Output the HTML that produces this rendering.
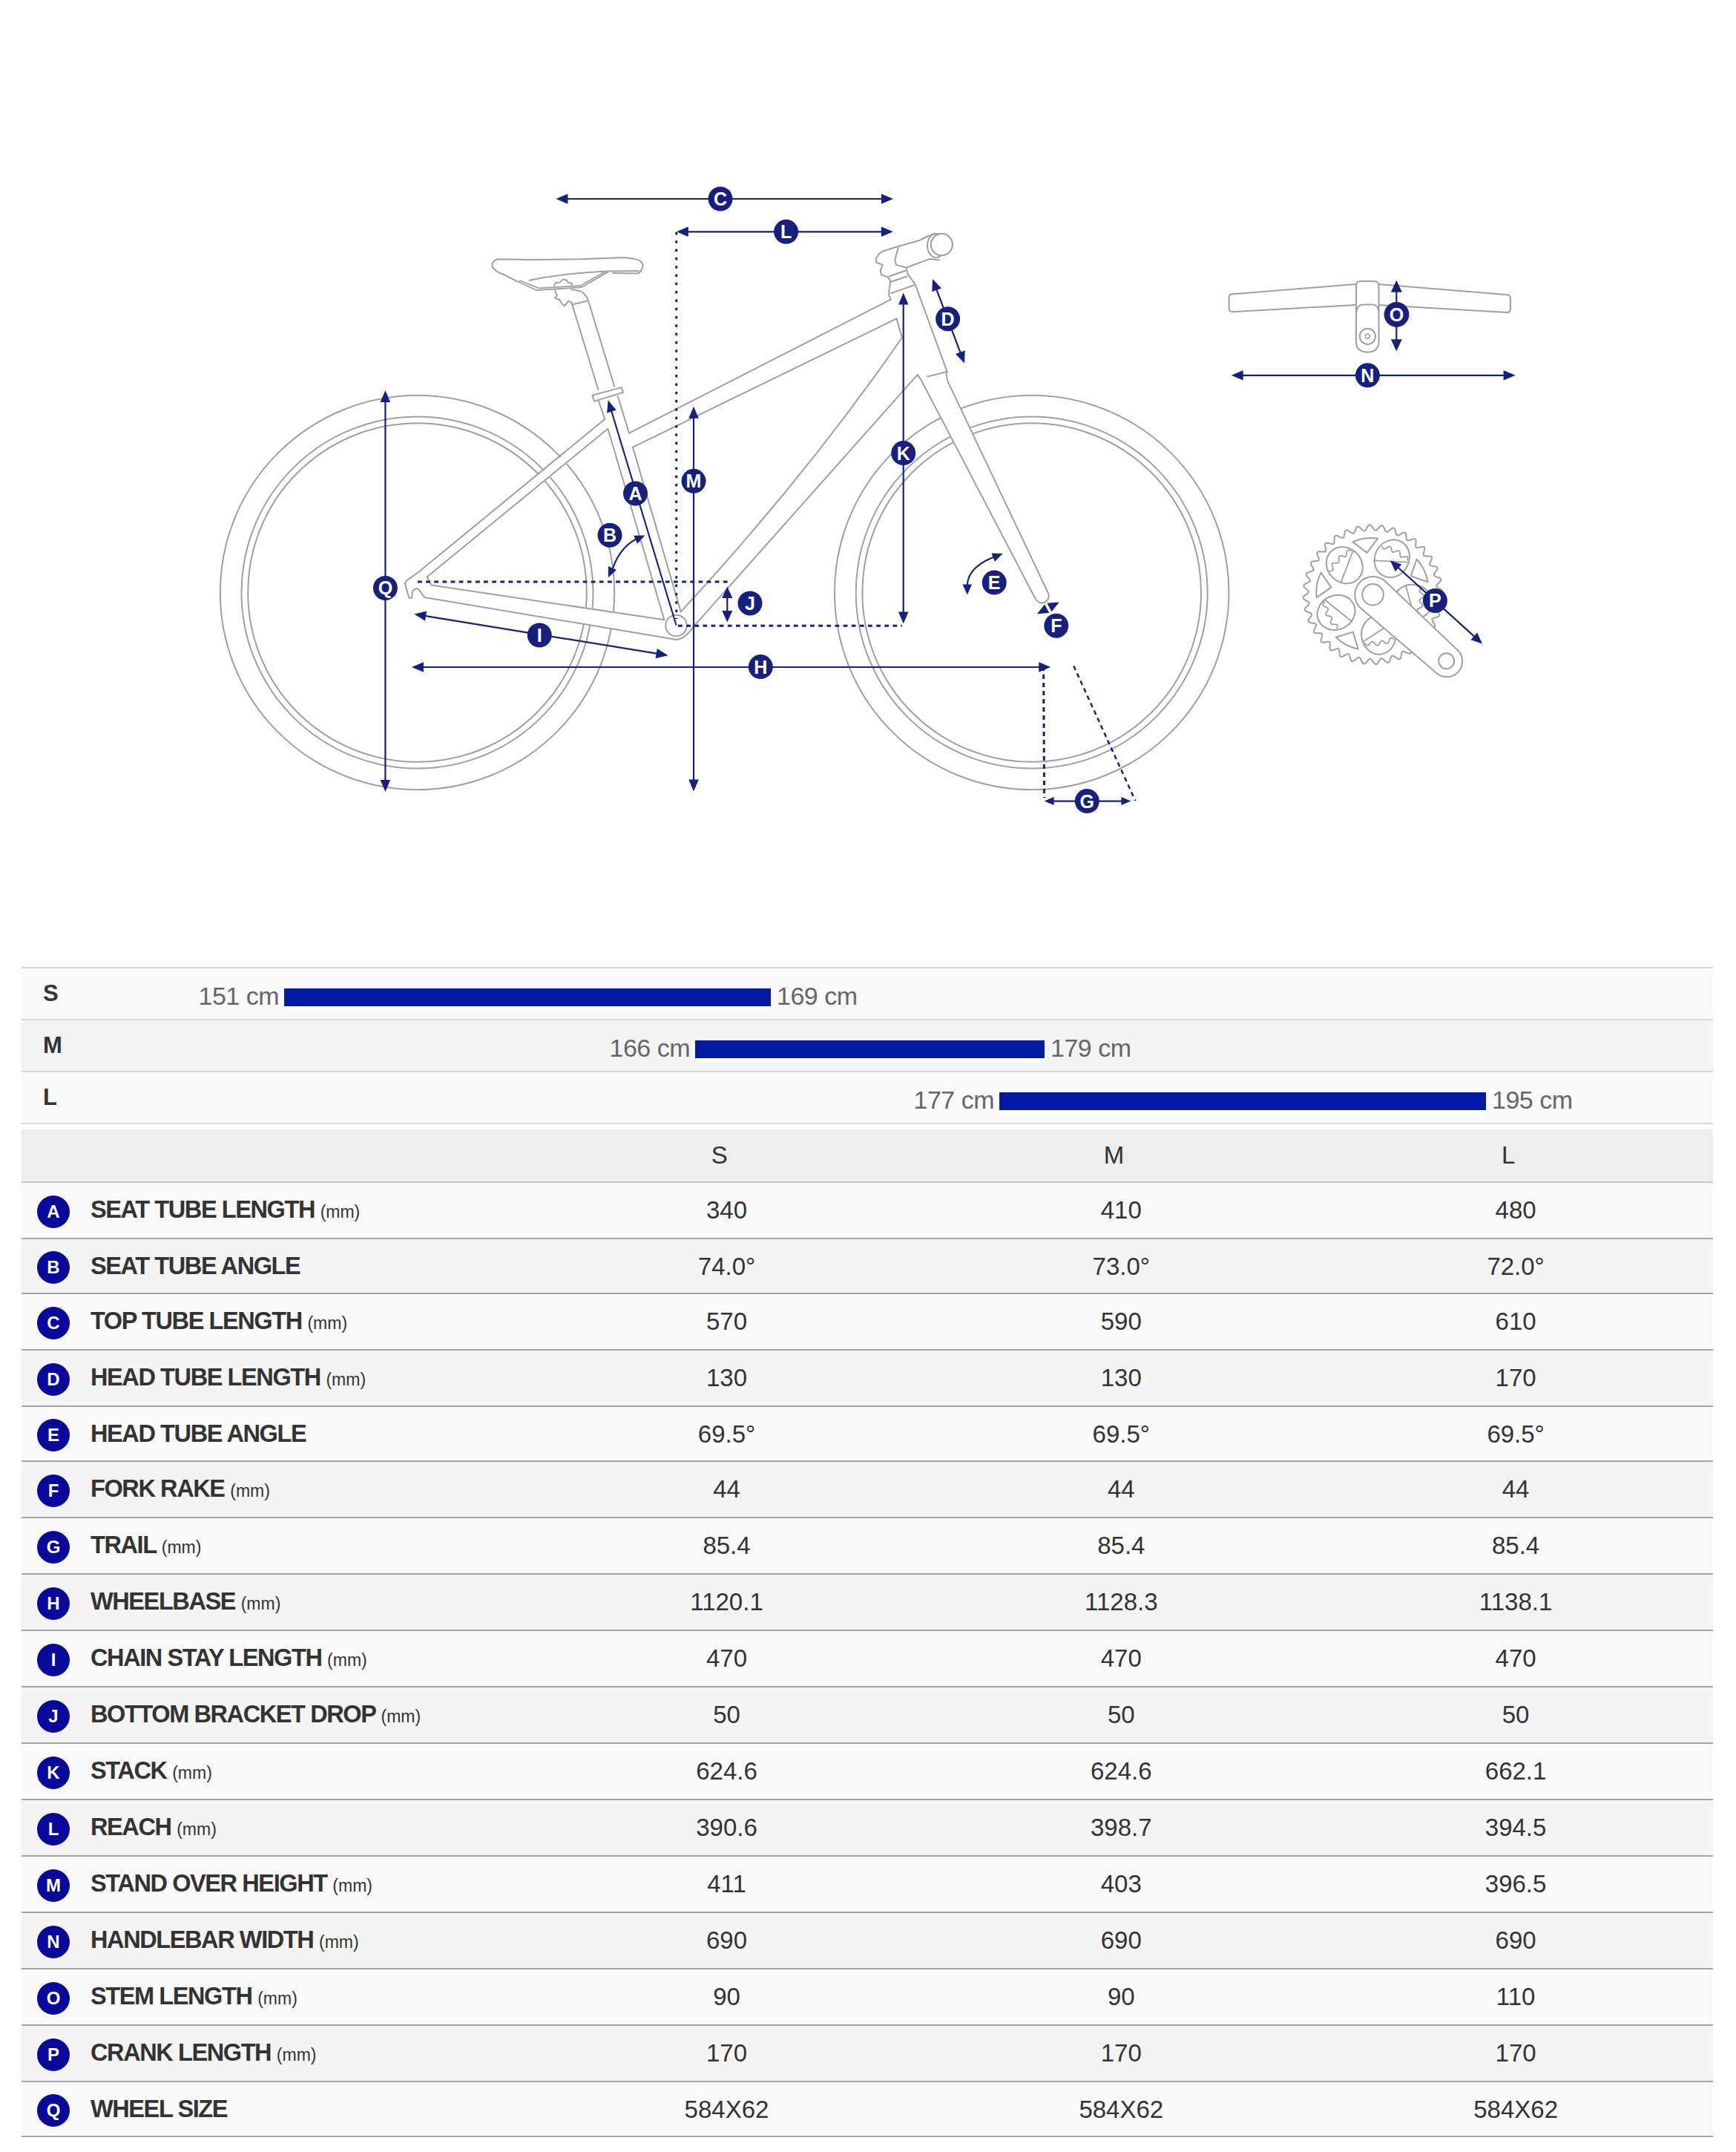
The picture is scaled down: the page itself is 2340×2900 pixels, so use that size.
<!DOCTYPE html>
<html><head><meta charset="utf-8"><title>Geometry</title>
<style>
html,body{margin:0;padding:0;background:#fff;}
body{width:2340px;height:2900px;position:relative;overflow:hidden;font-family:"Liberation Sans",sans-serif;}
.dia{position:absolute;left:0;top:0}

.b1,.b2,.b3{position:absolute;left:29px;width:2280px;height:2px}
.b1{background:#d9d9d9}
.b2{background:#c9c9c9}
.b3{background:#a5a5a5}
.srow{position:absolute;left:29px;width:2280px;height:68px}
.hdr{position:absolute;left:29px;width:2280px;height:70px;background:#ededed}
.drow{position:absolute;left:29px;width:2280px}
.slab{position:absolute;left:58px;font-weight:bold;font-size:31px;line-height:44px;color:#333}
.bar{position:absolute;height:24px;background:#041aa3}
.barw{position:absolute;height:6px;background:#fff}
.cm{position:absolute;width:300px;font-size:34px;letter-spacing:-0.5px;line-height:44px;color:#666;white-space:nowrap}
.cm.r{text-align:right}
.hv{position:absolute;width:300px;text-align:center;font-size:33px;line-height:44px;color:#333}
.badge{position:absolute;left:50px;width:44px;height:44px;border-radius:50%;background:#08089a;color:#fff;font-weight:bold;font-size:24px;line-height:44px;text-align:center}
.dl{position:absolute;left:122px;font-weight:bold;font-size:32.5px;line-height:44px;color:#333;white-space:nowrap;letter-spacing:-1.4px}
.dl .mm{font-weight:normal;font-size:23px;letter-spacing:0}
.dv{position:absolute;width:300px;text-align:center;font-size:33px;line-height:44px;color:#333}

</style></head><body>
<svg class="dia" width="2340" height="1290" viewBox="0 0 2340 1290">
<circle cx="562.5" cy="798.5" r="265.7" fill="none" stroke="#a0a0a0" stroke-width="2"/>
<circle cx="562.5" cy="798.5" r="237" fill="none" stroke="#a0a0a0" stroke-width="2"/>
<circle cx="562.5" cy="798.5" r="228.3" fill="none" stroke="#a0a0a0" stroke-width="2"/>
<circle cx="1390.7" cy="798.5" r="265.7" fill="none" stroke="#a0a0a0" stroke-width="2"/>
<circle cx="1390.7" cy="798.5" r="237" fill="none" stroke="#a0a0a0" stroke-width="2"/>
<circle cx="1390.7" cy="798.5" r="228.3" fill="none" stroke="#a0a0a0" stroke-width="2"/>
<path d="M548.0,782.6 L565.3,770.0 L815.4,568.0 L819.3,580.0 L575.6,777.4 L581.4,788.4 L895.9,833.6 L907.3,861.2 L572.2,805.0 L555.0,806.0 L545.7,786.0 Z" fill="#fff" stroke="none" stroke-width="2" stroke-linejoin="round" stroke-linecap="round"/>
<path d="M807.0,540.6 L895.9,833.6 L912.0,861.3 L935.0,844.0 L917.7,822.0 L853.0,602.6 L848.0,583.6 L832.8,534.0 Z" fill="#fff" stroke="none" stroke-width="2" stroke-linejoin="round" stroke-linecap="round"/>
<path d="M848.0,583.6 L1200.7,403.7 L1208.5,429.4 L853.0,602.6 Z" fill="#fff" stroke="none" stroke-width="2" stroke-linejoin="round" stroke-linecap="round"/>
<path d="M917.7,824.4 Q1088,640.3 1215.8,455 L1208.5,429.4 L1236.4,505.3 L933.8,845.6 Z" fill="#fff" stroke="none" stroke-width="2" stroke-linejoin="round" stroke-linecap="round"/>
<path d="M545.7,786.0 L548.0,782.6 L565.3,770.0 L815.3,564.8" fill="none" stroke="#a0a0a0" stroke-width="2" stroke-linejoin="round" stroke-linecap="round"/>
<path d="M819.4,577.7 L575.6,777.4 L581.4,788.4 L895.4,835.3" fill="none" stroke="#a0a0a0" stroke-width="2" stroke-linejoin="round" stroke-linecap="round"/>
<path d="M545.7,786 L551.4,805.7 L555,806 L556,796.5 Q561.8,789 567.6,798.8 L572.2,805 L907.3,861.2 Q920,865 933.8,845.6" fill="none" stroke="#a0a0a0" stroke-width="2" stroke-linejoin="round" stroke-linecap="round"/>
<path d="M807.0,540.6 L815.3,564.8" fill="none" stroke="#a0a0a0" stroke-width="2" stroke-linejoin="round" stroke-linecap="round"/>
<path d="M819.4,577.7 L895.4,835.3" fill="none" stroke="#a0a0a0" stroke-width="2" stroke-linejoin="round" stroke-linecap="round"/>
<path d="M832.8,534.0 L848.0,583.6" fill="none" stroke="#a0a0a0" stroke-width="2" stroke-linejoin="round" stroke-linecap="round"/>
<path d="M853.0,602.6 L917.7,824.4" fill="none" stroke="#a0a0a0" stroke-width="2" stroke-linejoin="round" stroke-linecap="round"/>
<path d="M848.0,583.6 L1200.7,403.7" fill="none" stroke="#a0a0a0" stroke-width="2" stroke-linejoin="round" stroke-linecap="round"/>
<path d="M1208.5,429.4 L853.0,602.6" fill="none" stroke="#a0a0a0" stroke-width="2" stroke-linejoin="round" stroke-linecap="round"/>
<path d="M917.7,824.4 Q1088,640.3 1215.8,455 L1208.5,429.4" fill="none" stroke="#a0a0a0" stroke-width="2" stroke-linejoin="round" stroke-linecap="round"/>
<path d="M933.8,845.6 L1236.4,505.3 L1241.4,509.7 L1276.6,500.8" fill="none" stroke="#a0a0a0" stroke-width="2" stroke-linejoin="round" stroke-linecap="round"/>
<circle cx="911.5" cy="843" r="14.3" fill="#fff" stroke="#a0a0a0" stroke-width="2"/>
<path d="M1200.7,403.7 L1197.9,397.0 L1200.2,378.1 L1196.8,373.6 L1187.9,370.3 L1186.8,364.7 L1189.6,356.9 L1181.2,353.5 L1180.6,349.1 L1184.5,342.4 L1189.0,339.0 L1205.7,333.5 L1239.2,324.0 L1249.2,319.0 L1260.4,314.5" fill="none" stroke="#a0a0a0" stroke-width="2" stroke-linejoin="round" stroke-linecap="round"/>
<path d="M1221.4,360.8 L1252.6,349.1 L1266.0,350.2" fill="none" stroke="#a0a0a0" stroke-width="2" stroke-linejoin="round" stroke-linecap="round"/>
<path d="M1210.8,333.5 L1206.3,350.2 L1208.0,356.9 L1221.4,360.8" fill="none" stroke="#a0a0a0" stroke-width="2" stroke-linejoin="round" stroke-linecap="round"/>
<path d="M1198.5,372.5 L1220.2,364.7" fill="none" stroke="#a0a0a0" stroke-width="2" stroke-linejoin="round" stroke-linecap="round"/>
<path d="M1199.6,380.3 L1222.5,372.5" fill="none" stroke="#a0a0a0" stroke-width="2" stroke-linejoin="round" stroke-linecap="round"/>
<path d="M1200.7,395.4 L1232.0,384.2" fill="none" stroke="#a0a0a0" stroke-width="2" stroke-linejoin="round" stroke-linecap="round"/>
<path d="M1221.4,360.8 L1223.6,369.2 L1233.6,383.1 L1276.6,500.8 L1275.5,503.0 L1277.1,513.1" fill="none" stroke="#a0a0a0" stroke-width="2" stroke-linejoin="round" stroke-linecap="round"/>
<circle cx="1269.3" cy="329.6" r="14.5" fill="none" stroke="#a0a0a0" stroke-width="2"/>
<ellipse cx="1262" cy="331" rx="12" ry="16" fill="none" stroke="#a0a0a0" stroke-width="2"/>
<circle cx="1269.3" cy="329.6" r="14.5" fill="#fff" stroke="#a0a0a0" stroke-width="2"/>
<path d="M1237,505.3 L1241,511 L1395.5,806.5 A9,9 0 0 0 1413,799.5 L1277.1,513.1" fill="#fff" stroke="#a0a0a0" stroke-width="2" stroke-linejoin="round" stroke-linecap="round"/>
<path d="M770.6,408.2 L806.3,524.8" fill="none" stroke="#a0a0a0" stroke-width="2" stroke-linejoin="round" stroke-linecap="round"/>
<path d="M793.1,405.5 L828.2,520.8" fill="none" stroke="#a0a0a0" stroke-width="2" stroke-linejoin="round" stroke-linecap="round"/>
<path d="M798.4,532.7 L837.5,522.1 L840.1,528.7 L801.0,540.6 Z" fill="#fff" stroke="#a0a0a0" stroke-width="2" stroke-linejoin="round" stroke-linecap="round"/>
<path d="M663.9,359.8 Q662,351 671.9,349.2 L716,349.9 L782.5,349.2 L835.5,347.2 Q856,347 863.3,351.9 Q868,356 866,360 Q865,366 860,368.4 L826,368" fill="#fff" stroke="#a0a0a0" stroke-width="2" stroke-linejoin="round" stroke-linecap="round"/>
<path d="M663.9,359.8 Q667,366 680,370.5 L696.4,378.8" fill="none" stroke="#a0a0a0" stroke-width="2" stroke-linejoin="round" stroke-linecap="round"/>
<path d="M713.6,377.7 Q760,368 820.9,365.5 L860.6,365.1" fill="none" stroke="#a0a0a0" stroke-width="2" stroke-linejoin="round" stroke-linecap="round"/>
<path d="M696.4,378.8 L723.5,391.2 L783.8,387.2 L819.6,366.4" fill="none" stroke="#a0a0a0" stroke-width="1.8" stroke-linejoin="round" stroke-linecap="round"/>
<path d="M700.3,378 L726.2,388.3 L782.5,385 L815.6,366" fill="none" stroke="#a0a0a0" stroke-width="1.8" stroke-linejoin="round" stroke-linecap="round"/>
<path d="M746.7,385 L749,381 L755,380.5 L758.6,376.4 L764,377.5 L766,381 L770.6,381.5 L771,384.5" fill="none" stroke="#a0a0a0" stroke-width="1.8" stroke-linejoin="round" stroke-linecap="round"/>
<path d="M748,391 L750.7,398.9 L748,401.5 L754.7,404.2 L757.3,409.5 L761.3,412.1 L764,408.2 L766.6,405.5 L770.6,408.2" fill="none" stroke="#a0a0a0" stroke-width="2" stroke-linejoin="round" stroke-linecap="round"/>
<path d="M770.6,390.3 L782.5,392.3 Q790,396 793.1,405.5" fill="none" stroke="#a0a0a0" stroke-width="2" stroke-linejoin="round" stroke-linecap="round"/>
<path d="M771.9,410.2 L791.8,405.5" fill="none" stroke="#a0a0a0" stroke-width="2" stroke-linejoin="round" stroke-linecap="round"/>
<line x1="563" y1="784" x2="981" y2="784" stroke="#17207f" stroke-width="3" stroke-dasharray="5.8 5.33"/>
<line x1="914" y1="843.3" x2="1216" y2="843.3" stroke="#17207f" stroke-width="3" stroke-dasharray="5.8 5.33"/>
<line x1="911.7" y1="313" x2="911.7" y2="834" stroke="#17207f" stroke-width="3" stroke-dasharray="3.5 7.8"/>
<line x1="1406.6" y1="898" x2="1407.6" y2="1075" stroke="#17207f" stroke-width="3" stroke-dasharray="6 5"/>
<line x1="1447.3" y1="897.5" x2="1530.3" y2="1079" stroke="#17207f" stroke-width="2.5" stroke-dasharray="6 5"/>
<line x1="759.0" y1="268.0" x2="1194.3" y2="268.0" stroke="#17207f" stroke-width="2.2"/><path d="M749.4,268.0 L765.4,261.2 L765.4,274.8 Z" fill="#17207f"/><path d="M1203.9,268.0 L1187.9,274.8 L1187.9,261.2 Z" fill="#17207f"/>
<circle cx="971.0" cy="268.0" r="16.5" fill="#17207f"/><text x="971.0" y="277.0" text-anchor="middle" font-family="Liberation Sans" font-weight="bold" font-size="25" fill="#fff">C</text>
<line x1="921.4" y1="312.3" x2="1194.3" y2="312.3" stroke="#17207f" stroke-width="2.2"/><path d="M911.8,312.3 L927.8,305.6 L927.8,319.1 Z" fill="#17207f"/><path d="M1203.9,312.3 L1187.9,319.1 L1187.9,305.6 Z" fill="#17207f"/>
<circle cx="1059.6" cy="312.3" r="16.5" fill="#17207f"/><text x="1059.6" y="321.3" text-anchor="middle" font-family="Liberation Sans" font-weight="bold" font-size="25" fill="#fff">L</text>
<line x1="519.4" y1="535.6" x2="519.4" y2="1057.4" stroke="#17207f" stroke-width="2.2"/><path d="M519.4,526.0 L526.1,542.0 L512.6,542.0 Z" fill="#17207f"/><path d="M519.4,1067.0 L512.6,1051.0 L526.1,1051.0 Z" fill="#17207f"/>
<circle cx="519.4" cy="792.4" r="16.5" fill="#17207f"/><text x="519.4" y="801.4" text-anchor="middle" font-family="Liberation Sans" font-weight="bold" font-size="25" fill="#fff">Q</text>
<line x1="935.0" y1="557.4" x2="935.0" y2="1056.8" stroke="#17207f" stroke-width="2.2"/><path d="M935.0,547.8 L941.8,563.8 L928.2,563.8 Z" fill="#17207f"/><path d="M935.0,1066.4 L928.2,1050.4 L941.8,1050.4 Z" fill="#17207f"/>
<circle cx="935.0" cy="648.3" r="16.5" fill="#17207f"/><text x="935.0" y="657.3" text-anchor="middle" font-family="Liberation Sans" font-weight="bold" font-size="25" fill="#fff">M</text>
<line x1="822.5" y1="548.4" x2="911.5" y2="842.5" stroke="#17207f" stroke-width="2.1"/><path d="M819.7,539.2 L830.6,552.6 L818.1,556.4 Z" fill="#17207f"/>
<circle cx="856.5" cy="664.9" r="16.5" fill="#17207f"/><text x="856.5" y="673.9" text-anchor="middle" font-family="Liberation Sans" font-weight="bold" font-size="25" fill="#fff">A</text>
<path d="M826,766 Q836,736 862,724" fill="none" stroke="#17207f" stroke-width="2.1"/>
<path d="M869.4,721.5 L859.1,732.7 L854.2,721.8 Z" fill="#17207f"/>
<path d="M819.8,778.3 L820.0,763.1 L831.0,768.0 Z" fill="#17207f"/>
<circle cx="822.0" cy="721.2" r="16.5" fill="#17207f"/><text x="822.0" y="730.2" text-anchor="middle" font-family="Liberation Sans" font-weight="bold" font-size="25" fill="#fff">B</text>
<line x1="567.8" y1="829.1" x2="891.0" y2="881.7" stroke="#17207f" stroke-width="2.2"/><path d="M558.3,827.6 L575.2,823.5 L573.0,836.8 Z" fill="#17207f"/><path d="M900.5,883.2 L883.6,887.3 L885.8,874.0 Z" fill="#17207f"/>
<circle cx="727.2" cy="856.0" r="16.5" fill="#17207f"/><text x="727.2" y="865.0" text-anchor="middle" font-family="Liberation Sans" font-weight="bold" font-size="25" fill="#fff">I</text>
<line x1="564.5" y1="899.0" x2="1406.6" y2="899.0" stroke="#17207f" stroke-width="2.2"/><path d="M554.9,899.0 L570.9,892.2 L570.9,905.8 Z" fill="#17207f"/><path d="M1416.2,899.0 L1400.2,905.8 L1400.2,892.2 Z" fill="#17207f"/>
<circle cx="1025.3" cy="898.6" r="16.5" fill="#17207f"/><text x="1025.3" y="907.6" text-anchor="middle" font-family="Liberation Sans" font-weight="bold" font-size="25" fill="#fff">H</text>
<line x1="980.3" y1="799.9" x2="980.3" y2="829.2" stroke="#17207f" stroke-width="2.2"/><path d="M980.3,790.6 L987.3,806.1 L973.3,806.1 Z" fill="#17207f"/><path d="M980.3,838.5 L973.3,823.0 L987.3,823.0 Z" fill="#17207f"/>
<circle cx="1011.0" cy="812.9" r="16.5" fill="#17207f"/><text x="1011.0" y="821.9" text-anchor="middle" font-family="Liberation Sans" font-weight="bold" font-size="25" fill="#fff">J</text>
<line x1="1217.7" y1="404.1" x2="1217.7" y2="830.8" stroke="#17207f" stroke-width="2.2"/><path d="M1217.7,394.5 L1224.5,410.5 L1211.0,410.5 Z" fill="#17207f"/><path d="M1217.7,840.4 L1211.0,824.4 L1224.5,824.4 Z" fill="#17207f"/>
<circle cx="1217.7" cy="610.6" r="16.5" fill="#17207f"/><text x="1217.7" y="619.6" text-anchor="middle" font-family="Liberation Sans" font-weight="bold" font-size="25" fill="#fff">K</text>
<line x1="1260.4" y1="384.9" x2="1296.6" y2="480.6" stroke="#17207f" stroke-width="2.2"/><path d="M1257.0,375.9 L1269.0,388.5 L1256.3,393.3 Z" fill="#17207f"/><path d="M1300.0,489.6 L1288.0,477.0 L1300.7,472.2 Z" fill="#17207f"/>
<circle cx="1277.6" cy="429.7" r="16.5" fill="#17207f"/><text x="1277.6" y="438.7" text-anchor="middle" font-family="Liberation Sans" font-weight="bold" font-size="25" fill="#fff">D</text>
<path d="M1303.8,790 Q1303.8,764.7 1340,750.5" fill="none" stroke="#17207f" stroke-width="2.1"/>
<path d="M1351.7,746.1 L1340.8,756.8 L1336.5,745.6 Z" fill="#17207f"/>
<path d="M1303.8,801.4 L1297.5,787.4 L1310.0,787.4 Z" fill="#17207f"/>
<circle cx="1340.2" cy="785.1" r="16.5" fill="#17207f"/><text x="1340.2" y="794.1" text-anchor="middle" font-family="Liberation Sans" font-weight="bold" font-size="25" fill="#fff">E</text>
<path d="M1397.9,827.2 L1408.1,814.4 L1414.2,825.9 Z" fill="#17207f"/>
<path d="M1427.7,811.4 L1417.5,824.2 L1411.4,812.7 Z" fill="#17207f"/>
<circle cx="1423.8" cy="843.2" r="16.5" fill="#17207f"/><text x="1423.8" y="852.2" text-anchor="middle" font-family="Liberation Sans" font-weight="bold" font-size="25" fill="#fff">F</text>
<line x1="1415.4" y1="1079.6" x2="1516.6" y2="1079.6" stroke="#17207f" stroke-width="2.2"/><path d="M1407.6,1079.6 L1420.6,1074.1 L1420.6,1085.1 Z" fill="#17207f"/><path d="M1524.4,1079.6 L1511.4,1085.1 L1511.4,1074.1 Z" fill="#17207f"/>
<circle cx="1465.3" cy="1079.6" r="16.5" fill="#17207f"/><text x="1465.3" y="1088.6" text-anchor="middle" font-family="Liberation Sans" font-weight="bold" font-size="25" fill="#fff">G</text>
<path d="M1659.7,396.4 L1826.7,383.1 M1858.5,383.1 L2032,397.2 Q2036,398 2036,402 L2036,416 Q2036,421 2031,421 L1858.5,411 M1826.7,411 L1661,420.2 Q1656.6,420 1656.6,416 L1656.6,401 Q1656.6,397 1659.7,396.4" fill="none" stroke="#a0a0a0" stroke-width="2" stroke-linejoin="round" stroke-linecap="round"/>
<path d="M1828,385 Q1828,379 1834,379 L1852,379 Q1858.5,379 1858.5,385 L1858.5,460 Q1858.5,474.5 1843.3,474.5 Q1828,474.5 1828,460 Z" fill="#fff" stroke="#a0a0a0" stroke-width="2" stroke-linejoin="round" stroke-linecap="round"/>
<path d="M1828.5,420 Q1829,411 1837,410.5 L1850,410.5 Q1858,411 1858.3,420" fill="none" stroke="#a0a0a0" stroke-width="2" stroke-linejoin="round" stroke-linecap="round"/>
<circle cx="1843.4" cy="453.3" r="10.6" fill="none" stroke="#a0a0a0" stroke-width="2"/>
<circle cx="1843.4" cy="453.3" r="3" fill="none" stroke="#a0a0a0" stroke-width="1.5"/>
<line x1="1882.3" y1="387.4" x2="1882.3" y2="463.6" stroke="#17207f" stroke-width="2.2"/><path d="M1882.3,377.8 L1889.8,393.8 L1874.8,393.8 Z" fill="#17207f"/><path d="M1882.3,473.2 L1874.8,457.2 L1889.8,457.2 Z" fill="#17207f"/>
<circle cx="1882.5" cy="423.9" r="16.9" fill="#17207f"/><text x="1882.5" y="432.9" text-anchor="middle" font-family="Liberation Sans" font-weight="bold" font-size="25" fill="#fff">O</text>
<line x1="1669.3" y1="505.8" x2="2033.0" y2="505.8" stroke="#17207f" stroke-width="2.2"/><path d="M1659.7,505.8 L1675.7,499.1 L1675.7,512.5 Z" fill="#17207f"/><path d="M2042.6,505.8 L2026.6,512.5 L2026.6,499.1 Z" fill="#17207f"/>
<circle cx="1843.4" cy="505.8" r="16.5" fill="#17207f"/><text x="1843.4" y="514.8" text-anchor="middle" font-family="Liberation Sans" font-weight="bold" font-size="25" fill="#fff">N</text>
<path d="M1940.6,801.3 L1938.7,802.6 L1937.4,803.8 L1936.9,805.1 L1937.5,806.4 L1938.9,807.7 L1940.7,809.2 L1942.4,810.7 L1943.6,812.2 L1943.8,813.6 L1943.0,814.8 L1941.3,816.0 L1939.2,816.9 L1937.1,817.9 L1935.6,818.9 L1935.0,820.0 L1935.3,821.4 L1936.4,823.0 L1938.0,824.7 L1939.4,826.5 L1940.3,828.2 L1940.2,829.6 L1939.2,830.7 L1937.4,831.5 L1935.1,832.1 L1932.9,832.7 L1931.3,833.4 L1930.4,834.4 L1930.5,835.8 L1931.3,837.6 L1932.6,839.6 L1933.7,841.6 L1934.2,843.4 L1934.0,844.7 L1932.8,845.7 L1930.8,846.1 L1928.5,846.3 L1926.2,846.5 L1924.5,846.9 L1923.5,847.8 L1923.3,849.2 L1923.8,851.1 L1924.7,853.2 L1925.4,855.4 L1925.7,857.3 L1925.1,858.6 L1923.8,859.3 L1921.8,859.4 L1919.5,859.2 L1917.2,859.0 L1915.4,859.1 L1914.3,859.7 L1913.9,861.1 L1914.1,863.0 L1914.5,865.3 L1914.9,867.6 L1914.8,869.5 L1914.1,870.7 L1912.6,871.1 L1910.6,870.9 L1908.4,870.3 L1906.2,869.7 L1904.4,869.5 L1903.2,869.9 L1902.5,871.2 L1902.4,873.1 L1902.4,875.5 L1902.4,877.8 L1902.0,879.6 L1901.1,880.7 L1899.6,880.8 L1897.6,880.3 L1895.5,879.3 L1893.5,878.3 L1891.7,877.8 L1890.4,878.0 L1889.6,879.2 L1889.1,881.1 L1888.8,883.4 L1888.3,885.6 L1887.6,887.3 L1886.5,888.2 L1885.0,888.2 L1883.2,887.3 L1881.3,885.9 L1879.5,884.6 L1877.8,883.8 L1876.5,883.8 L1875.5,884.8 L1874.7,886.5 L1873.9,888.8 L1873.1,890.9 L1872.1,892.5 L1870.9,893.2 L1869.4,892.8 L1867.8,891.7 L1866.1,890.0 L1864.6,888.4 L1863.1,887.3 L1861.8,887.1 L1860.6,887.8 L1859.5,889.5 L1858.4,891.5 L1857.2,893.5 L1855.9,894.8 L1854.6,895.3 L1853.2,894.7 L1851.8,893.3 L1850.5,891.4 L1849.2,889.5 L1848.0,888.2 L1846.7,887.7 L1845.4,888.3 L1844.1,889.7 L1842.6,891.5 L1841.1,893.2 L1839.6,894.4 L1838.2,894.6 L1837.0,893.8 L1835.8,892.1 L1834.9,890.0 L1833.9,887.9 L1832.9,886.4 L1831.8,885.8 L1830.4,886.1 L1828.8,887.2 L1827.1,888.8 L1825.3,890.2 L1823.6,891.1 L1822.2,891.0 L1821.1,890.0 L1820.3,888.2 L1819.7,885.9 L1819.1,883.7 L1818.4,882.1 L1817.4,881.2 L1816.0,881.3 L1814.2,882.1 L1812.2,883.4 L1810.2,884.5 L1808.4,885.0 L1807.1,884.8 L1806.1,883.6 L1805.7,881.6 L1805.5,879.3 L1805.3,877.0 L1804.9,875.3 L1804.0,874.3 L1802.6,874.1 L1800.7,874.6 L1798.6,875.5 L1796.4,876.2 L1794.5,876.5 L1793.2,875.9 L1792.5,874.6 L1792.4,872.6 L1792.6,870.3 L1792.8,868.0 L1792.7,866.2 L1792.1,865.1 L1790.7,864.7 L1788.8,864.9 L1786.5,865.3 L1784.2,865.7 L1782.3,865.6 L1781.1,864.9 L1780.7,863.4 L1780.9,861.4 L1781.5,859.2 L1782.1,857.0 L1782.3,855.2 L1781.9,854.0 L1780.6,853.3 L1778.7,853.2 L1776.3,853.2 L1774.0,853.2 L1772.2,852.8 L1771.1,851.9 L1771.0,850.4 L1771.5,848.4 L1772.5,846.3 L1773.5,844.3 L1774.0,842.5 L1773.8,841.2 L1772.6,840.4 L1770.7,839.9 L1768.4,839.6 L1766.2,839.1 L1764.5,838.4 L1763.6,837.3 L1763.6,835.8 L1764.5,834.0 L1765.9,832.1 L1767.2,830.3 L1768.0,828.6 L1768.0,827.3 L1767.0,826.3 L1765.3,825.5 L1763.0,824.7 L1760.9,823.9 L1759.3,822.9 L1758.6,821.7 L1759.0,820.2 L1760.1,818.6 L1761.8,816.9 L1763.4,815.4 L1764.5,813.9 L1764.7,812.6 L1764.0,811.4 L1762.3,810.3 L1760.3,809.2 L1758.3,808.0 L1757.0,806.7 L1756.5,805.4 L1757.1,804.0 L1758.5,802.6 L1760.4,801.3 L1762.3,800.0 L1763.6,798.8 L1764.1,797.5 L1763.5,796.2 L1762.1,794.9 L1760.3,793.4 L1758.6,791.9 L1757.4,790.4 L1757.2,789.0 L1758.0,787.8 L1759.7,786.6 L1761.8,785.7 L1763.9,784.7 L1765.4,783.7 L1766.0,782.6 L1765.7,781.2 L1764.6,779.6 L1763.0,777.9 L1761.6,776.1 L1760.7,774.4 L1760.8,773.0 L1761.8,771.9 L1763.6,771.1 L1765.9,770.5 L1768.1,769.9 L1769.7,769.2 L1770.6,768.2 L1770.5,766.8 L1769.7,765.0 L1768.4,763.0 L1767.3,761.0 L1766.8,759.2 L1767.0,757.9 L1768.2,756.9 L1770.2,756.5 L1772.5,756.3 L1774.8,756.1 L1776.5,755.7 L1777.5,754.8 L1777.7,753.4 L1777.2,751.5 L1776.3,749.4 L1775.6,747.2 L1775.3,745.3 L1775.9,744.0 L1777.2,743.3 L1779.2,743.2 L1781.5,743.4 L1783.8,743.6 L1785.6,743.5 L1786.7,742.9 L1787.1,741.5 L1786.9,739.6 L1786.5,737.3 L1786.1,735.0 L1786.2,733.1 L1786.9,731.9 L1788.4,731.5 L1790.4,731.7 L1792.6,732.3 L1794.8,732.9 L1796.6,733.1 L1797.8,732.7 L1798.5,731.4 L1798.6,729.5 L1798.6,727.1 L1798.6,724.8 L1799.0,723.0 L1799.9,721.9 L1801.4,721.8 L1803.4,722.3 L1805.5,723.3 L1807.5,724.3 L1809.3,724.8 L1810.6,724.6 L1811.4,723.4 L1811.9,721.5 L1812.2,719.2 L1812.7,717.0 L1813.4,715.3 L1814.5,714.4 L1816.0,714.4 L1817.8,715.3 L1819.7,716.7 L1821.5,718.0 L1823.2,718.8 L1824.5,718.8 L1825.5,717.8 L1826.3,716.1 L1827.1,713.8 L1827.9,711.7 L1828.9,710.1 L1830.1,709.4 L1831.6,709.8 L1833.2,710.9 L1834.9,712.6 L1836.4,714.2 L1837.9,715.3 L1839.2,715.5 L1840.4,714.8 L1841.5,713.1 L1842.6,711.1 L1843.8,709.1 L1845.1,707.8 L1846.4,707.3 L1847.8,707.9 L1849.2,709.3 L1850.5,711.2 L1851.8,713.1 L1853.0,714.4 L1854.3,714.9 L1855.6,714.3 L1856.9,712.9 L1858.4,711.1 L1859.9,709.4 L1861.4,708.2 L1862.8,708.0 L1864.0,708.8 L1865.2,710.5 L1866.1,712.6 L1867.1,714.7 L1868.1,716.2 L1869.2,716.8 L1870.6,716.5 L1872.2,715.4 L1873.9,713.8 L1875.7,712.4 L1877.4,711.5 L1878.8,711.6 L1879.9,712.6 L1880.7,714.4 L1881.3,716.7 L1881.9,718.9 L1882.6,720.5 L1883.6,721.4 L1885.0,721.3 L1886.8,720.5 L1888.8,719.2 L1890.8,718.1 L1892.6,717.6 L1893.9,717.8 L1894.9,719.0 L1895.3,721.0 L1895.5,723.3 L1895.7,725.6 L1896.1,727.3 L1897.0,728.3 L1898.4,728.5 L1900.3,728.0 L1902.4,727.1 L1904.6,726.4 L1906.5,726.1 L1907.8,726.7 L1908.5,728.0 L1908.6,730.0 L1908.4,732.3 L1908.2,734.6 L1908.3,736.4 L1908.9,737.5 L1910.3,737.9 L1912.2,737.7 L1914.5,737.3 L1916.8,736.9 L1918.7,737.0 L1919.9,737.7 L1920.3,739.2 L1920.1,741.2 L1919.5,743.4 L1918.9,745.6 L1918.7,747.4 L1919.1,748.6 L1920.4,749.3 L1922.3,749.4 L1924.7,749.4 L1927.0,749.4 L1928.8,749.8 L1929.9,750.7 L1930.0,752.2 L1929.5,754.2 L1928.5,756.3 L1927.5,758.3 L1927.0,760.1 L1927.2,761.4 L1928.4,762.2 L1930.3,762.7 L1932.6,763.0 L1934.8,763.5 L1936.5,764.2 L1937.4,765.3 L1937.4,766.8 L1936.5,768.6 L1935.1,770.5 L1933.8,772.3 L1933.0,774.0 L1933.0,775.3 L1934.0,776.3 L1935.7,777.1 L1938.0,777.9 L1940.1,778.7 L1941.7,779.7 L1942.4,780.9 L1942.0,782.4 L1940.9,784.0 L1939.2,785.7 L1937.6,787.2 L1936.5,788.7 L1936.3,790.0 L1937.0,791.2 L1938.7,792.3 L1940.7,793.4 L1942.7,794.6 L1944.0,795.9 L1944.5,797.2 L1943.9,798.6 L1942.5,800.0 L1940.6,801.3 Z" fill="none" stroke="#a0a0a0" stroke-width="2" stroke-linejoin="round" stroke-linecap="round"/>
<ellipse cx="1812.3" cy="761.7" rx="26" ry="23" transform="rotate(-134.0 1812.3 761.7)" fill="none" stroke="#a0a0a0" stroke-width="2"/>
<path d="M1792.7,769.5 L1794.3,769.3 L1795.6,768.9 L1796.5,768.4 L1796.9,767.5 L1796.9,766.3 L1796.5,764.9 L1796.0,763.4 L1795.6,761.8 L1795.5,760.5 L1795.8,759.5 L1796.7,758.9 L1798.0,758.6 L1799.6,758.6 L1801.2,758.7 L1802.7,758.7 L1803.8,758.5 L1804.6,757.8 L1804.9,756.8 L1804.8,755.4 L1804.7,753.8 L1804.5,752.2 L1804.6,750.8 L1805.0,749.7 L1805.9,749.1 L1807.1,749.0 L1808.6,749.2 L1810.2,749.6 L1811.7,750.0 L1812.9,750.1 L1813.9,749.8 L1814.5,749.0 L1814.8,747.8 L1815.0,746.2 L1815.1,744.6 L1815.4,743.1 L1815.9,742.0 L1816.8,741.4 L1817.9,741.3 L1819.3,741.7 L1820.7,742.4" fill="none" stroke="#a0a0a0" stroke-width="1.8" stroke-linejoin="round" stroke-linecap="round"/>
<path d="M1807.3,785.4 L1823.4,743.3" fill="none" stroke="#a0a0a0" stroke-width="1.8" stroke-linejoin="round" stroke-linecap="round"/>
<path d="M1842.6,744.9 L1823.3,730.3 Q1839.5,723.1 1857.1,725.6 Z" fill="none" stroke="#a0a0a0" stroke-width="2" stroke-linejoin="round" stroke-linecap="round"/>
<ellipse cx="1876.3" cy="752.7" rx="26" ry="23" transform="rotate(-62.0 1876.3 752.7)" fill="none" stroke="#a0a0a0" stroke-width="2"/>
<path d="M1862.9,736.5 L1863.6,737.9 L1864.3,739.1 L1865.1,739.8 L1866.1,739.9 L1867.2,739.5 L1868.4,738.7 L1869.7,737.7 L1871.1,736.9 L1872.3,736.4 L1873.4,736.4 L1874.2,737.0 L1874.9,738.2 L1875.4,739.7 L1875.8,741.3 L1876.2,742.7 L1876.8,743.7 L1877.6,744.2 L1878.7,744.2 L1880.0,743.7 L1881.5,743.0 L1883.0,742.4 L1884.3,742.0 L1885.5,742.1 L1886.3,742.7 L1886.8,743.8 L1887.1,745.3 L1887.2,747.0 L1887.3,748.5 L1887.6,749.8 L1888.2,750.6 L1889.1,750.9 L1890.4,750.8 L1891.9,750.5 L1893.5,750.1 L1895.0,749.9 L1896.2,750.1 L1897.1,750.7 L1897.5,751.8 L1897.5,753.2 L1897.3,754.8" fill="none" stroke="#a0a0a0" stroke-width="1.8" stroke-linejoin="round" stroke-linecap="round"/>
<path d="M1852.3,755.3 L1897.2,757.6" fill="none" stroke="#a0a0a0" stroke-width="1.8" stroke-linejoin="round" stroke-linecap="round"/>
<path d="M1901.7,776.3 L1909.6,753.5 Q1921.5,766.7 1924.6,784.2 Z" fill="none" stroke="#a0a0a0" stroke-width="2" stroke-linejoin="round" stroke-linecap="round"/>
<ellipse cx="1904.7" cy="810.9" rx="26" ry="23" transform="rotate(10.0 1904.7 810.9)" fill="none" stroke="#a0a0a0" stroke-width="2"/>
<path d="M1916.0,793.0 L1914.8,794.2 L1913.9,795.2 L1913.5,796.2 L1913.7,797.2 L1914.4,798.1 L1915.6,799.0 L1916.9,799.9 L1918.1,800.9 L1919.0,802.0 L1919.3,803.0 L1918.9,804.0 L1918.0,805.0 L1916.8,805.9 L1915.4,806.8 L1914.2,807.7 L1913.4,808.5 L1913.2,809.5 L1913.6,810.5 L1914.4,811.6 L1915.5,812.8 L1916.6,814.0 L1917.3,815.2 L1917.6,816.3 L1917.3,817.3 L1916.4,818.1 L1915.0,818.8 L1913.5,819.4 L1912.1,820.0 L1911.0,820.6 L1910.4,821.5 L1910.4,822.5 L1910.9,823.6 L1911.6,825.0 L1912.5,826.4 L1913.1,827.7 L1913.3,829.0 L1913.0,829.9 L1912.1,830.7 L1910.8,831.1 L1909.2,831.5" fill="none" stroke="#a0a0a0" stroke-width="1.8" stroke-linejoin="round" stroke-linecap="round"/>
<path d="M1894.8,788.8 L1906.5,832.2" fill="none" stroke="#a0a0a0" stroke-width="1.8" stroke-linejoin="round" stroke-linecap="round"/>
<path d="M1890.1,842.3 L1914.2,842.7 Q1905.4,858.1 1889.6,866.4 Z" fill="none" stroke="#a0a0a0" stroke-width="2" stroke-linejoin="round" stroke-linecap="round"/>
<ellipse cx="1858.2" cy="855.8" rx="26" ry="23" transform="rotate(82.0 1858.2 855.8)" fill="none" stroke="#a0a0a0" stroke-width="2"/>
<path d="M1878.6,861.0 L1877.2,860.3 L1875.9,859.8 L1874.8,859.7 L1874.0,860.1 L1873.3,861.1 L1872.8,862.5 L1872.3,864.1 L1871.8,865.5 L1871.0,866.6 L1870.1,867.2 L1869.1,867.2 L1867.9,866.7 L1866.6,865.8 L1865.3,864.7 L1864.1,863.9 L1863.1,863.4 L1862.1,863.5 L1861.3,864.1 L1860.5,865.3 L1859.7,866.7 L1858.9,868.0 L1858.0,869.2 L1857.0,869.8 L1856.0,869.7 L1854.9,869.1 L1853.8,868.1 L1852.8,866.8 L1851.8,865.6 L1850.8,864.8 L1849.8,864.5 L1848.9,864.8 L1847.9,865.6 L1846.9,866.8 L1845.8,868.0 L1844.7,869.0 L1843.6,869.6 L1842.6,869.6 L1841.6,869.0 L1840.8,867.9 L1840.0,866.5" fill="none" stroke="#a0a0a0" stroke-width="1.8" stroke-linejoin="round" stroke-linecap="round"/>
<path d="M1876.1,839.5 L1838.4,864.1" fill="none" stroke="#a0a0a0" stroke-width="1.8" stroke-linejoin="round" stroke-linecap="round"/>
<path d="M1823.7,851.6 L1830.8,874.7 Q1813.4,871.1 1800.6,858.7 Z" fill="none" stroke="#a0a0a0" stroke-width="2" stroke-linejoin="round" stroke-linecap="round"/>
<ellipse cx="1801.1" cy="825.4" rx="26" ry="23" transform="rotate(154.0 1801.1 825.4)" fill="none" stroke="#a0a0a0" stroke-width="2"/>
<path d="M1802.4,846.5 L1802.6,844.9 L1802.7,843.5 L1802.5,842.5 L1801.8,841.8 L1800.7,841.5 L1799.2,841.4 L1797.6,841.4 L1796.0,841.4 L1794.7,841.0 L1793.9,840.4 L1793.5,839.3 L1793.7,838.0 L1794.2,836.5 L1794.8,835.0 L1795.2,833.6 L1795.3,832.4 L1795.0,831.5 L1794.1,830.9 L1792.8,830.5 L1791.2,830.2 L1789.6,829.9 L1788.3,829.4 L1787.4,828.6 L1787.1,827.6 L1787.3,826.4 L1788.0,825.1 L1788.9,823.7 L1789.7,822.4 L1790.2,821.2 L1790.2,820.2 L1789.6,819.4 L1788.5,818.7 L1787.1,818.1 L1785.6,817.4 L1784.3,816.7 L1783.4,815.9 L1783.1,814.9 L1783.4,813.8 L1784.2,812.6 L1785.3,811.4" fill="none" stroke="#a0a0a0" stroke-width="1.8" stroke-linejoin="round" stroke-linecap="round"/>
<path d="M1822.0,837.4 L1787.0,809.2" fill="none" stroke="#a0a0a0" stroke-width="1.8" stroke-linejoin="round" stroke-linecap="round"/>
<path d="M1794.4,791.4 L1774.6,805.3 Q1772.7,787.6 1780.5,771.6 Z" fill="none" stroke="#a0a0a0" stroke-width="2" stroke-linejoin="round" stroke-linecap="round"/>
<path d="M1834.6,819.9 L1936.0,906.8 A21,21 0 0 0 1964.2,875.6 L1867.4,783.5 A24.5,24.5 0 1 0 1834.6,819.9 Z" fill="#fff" stroke="#a0a0a0" stroke-width="2" stroke-linejoin="round" stroke-linecap="round"/>
<circle cx="1850.5" cy="801.3" r="14.3" fill="none" stroke="#a0a0a0" stroke-width="2"/>
<circle cx="1949.7" cy="890.8" r="10.5" fill="none" stroke="#a0a0a0" stroke-width="2"/>
<line x1="1880.6" y1="761.3" x2="1991.3" y2="861.4" stroke="#17207f" stroke-width="2.2"/><path d="M1873.9,755.3 L1889.4,760.5 L1880.7,770.2 Z" fill="#17207f"/><path d="M1998.0,867.4 L1982.5,862.2 L1991.2,852.5 Z" fill="#17207f"/>
<circle cx="1934.4" cy="809.4" r="16.5" fill="#17207f"/><text x="1934.4" y="818.4" text-anchor="middle" font-family="Liberation Sans" font-weight="bold" font-size="25" fill="#fff">P</text>
</svg>
<div class="b1" style="top:1303px"></div>
<div class="srow" style="top:1305px;background:#f9f9f9"></div>
<div class="b1" style="top:1373px"></div>
<div class="slab" style="top:1317px">S</div>
<div class="bar" style="top:1332px;left:383px;width:656px"></div>
<div class="barw" style="top:1356px;left:383px;width:656px"></div>
<div class="cm r" style="top:1320px;left:76px">151 cm</div>
<div class="cm" style="top:1320px;left:1047px">169 cm</div>
<div class="srow" style="top:1375px;background:#f4f4f4"></div>
<div class="b1" style="top:1443px"></div>
<div class="slab" style="top:1387px">M</div>
<div class="bar" style="top:1402px;left:937px;width:471px"></div>
<div class="barw" style="top:1426px;left:937px;width:471px"></div>
<div class="cm r" style="top:1390px;left:630px">166 cm</div>
<div class="cm" style="top:1390px;left:1416px">179 cm</div>
<div class="srow" style="top:1445px;background:#f9f9f9"></div>
<div class="b1" style="top:1513px"></div>
<div class="slab" style="top:1457px">L</div>
<div class="bar" style="top:1472px;left:1347px;width:656px"></div>
<div class="barw" style="top:1496px;left:1347px;width:656px"></div>
<div class="cm r" style="top:1460px;left:1040px">177 cm</div>
<div class="cm" style="top:1460px;left:2011px">195 cm</div>
<div class="hdr" style="top:1522px"></div>
<div class="b2" style="top:1592px"></div>
<div class="hv" style="top:1535px;left:819.7px">S</div>
<div class="hv" style="top:1535px;left:1351.5px">M</div>
<div class="hv" style="top:1535px;left:1883.3px">L</div>
<div class="drow" style="top:1594px;height:74px;background:#f9f9f9"></div>
<div class="b3" style="top:1668px"></div>
<div class="badge" style="top:1610.5px">A</div>
<div class="dl" style="top:1608px">SEAT TUBE LENGTH <span class="mm">(mm)</span></div>
<div class="dv" style="top:1609px;left:829.5px">340</div>
<div class="dv" style="top:1609px;left:1361.3px">410</div>
<div class="dv" style="top:1609px;left:1893.1px">480</div>
<div class="drow" style="top:1670px;height:72px;background:#f4f4f4"></div>
<div class="b3" style="top:1742px"></div>
<div class="badge" style="top:1685.5px">B</div>
<div class="dl" style="top:1684px">SEAT TUBE ANGLE</div>
<div class="dv" style="top:1685px;left:829.5px">74.0°</div>
<div class="dv" style="top:1685px;left:1361.3px">73.0°</div>
<div class="dv" style="top:1685px;left:1893.1px">72.0°</div>
<div class="drow" style="top:1744px;height:74px;background:#f9f9f9"></div>
<div class="b3" style="top:1818px"></div>
<div class="badge" style="top:1760.5px">C</div>
<div class="dl" style="top:1758px">TOP TUBE LENGTH <span class="mm">(mm)</span></div>
<div class="dv" style="top:1759px;left:829.5px">570</div>
<div class="dv" style="top:1759px;left:1361.3px">590</div>
<div class="dv" style="top:1759px;left:1893.1px">610</div>
<div class="drow" style="top:1820px;height:74px;background:#f4f4f4"></div>
<div class="b3" style="top:1894px"></div>
<div class="badge" style="top:1836.5px">D</div>
<div class="dl" style="top:1834px">HEAD TUBE LENGTH <span class="mm">(mm)</span></div>
<div class="dv" style="top:1835px;left:829.5px">130</div>
<div class="dv" style="top:1835px;left:1361.3px">130</div>
<div class="dv" style="top:1835px;left:1893.1px">170</div>
<div class="drow" style="top:1896px;height:72px;background:#f9f9f9"></div>
<div class="b3" style="top:1968px"></div>
<div class="badge" style="top:1911.5px">E</div>
<div class="dl" style="top:1910px">HEAD TUBE ANGLE</div>
<div class="dv" style="top:1911px;left:829.5px">69.5°</div>
<div class="dv" style="top:1911px;left:1361.3px">69.5°</div>
<div class="dv" style="top:1911px;left:1893.1px">69.5°</div>
<div class="drow" style="top:1970px;height:74px;background:#f4f4f4"></div>
<div class="b3" style="top:2044px"></div>
<div class="badge" style="top:1986.5px">F</div>
<div class="dl" style="top:1984px">FORK RAKE <span class="mm">(mm)</span></div>
<div class="dv" style="top:1985px;left:829.5px">44</div>
<div class="dv" style="top:1985px;left:1361.3px">44</div>
<div class="dv" style="top:1985px;left:1893.1px">44</div>
<div class="drow" style="top:2046px;height:74px;background:#f9f9f9"></div>
<div class="b3" style="top:2120px"></div>
<div class="badge" style="top:2062.5px">G</div>
<div class="dl" style="top:2060px">TRAIL <span class="mm">(mm)</span></div>
<div class="dv" style="top:2061px;left:829.5px">85.4</div>
<div class="dv" style="top:2061px;left:1361.3px">85.4</div>
<div class="dv" style="top:2061px;left:1893.1px">85.4</div>
<div class="drow" style="top:2122px;height:74px;background:#f4f4f4"></div>
<div class="b3" style="top:2196px"></div>
<div class="badge" style="top:2138.5px">H</div>
<div class="dl" style="top:2136px">WHEELBASE <span class="mm">(mm)</span></div>
<div class="dv" style="top:2137px;left:829.5px">1120.1</div>
<div class="dv" style="top:2137px;left:1361.3px">1128.3</div>
<div class="dv" style="top:2137px;left:1893.1px">1138.1</div>
<div class="drow" style="top:2198px;height:74px;background:#f9f9f9"></div>
<div class="b3" style="top:2272px"></div>
<div class="badge" style="top:2214.5px">I</div>
<div class="dl" style="top:2212px">CHAIN STAY LENGTH <span class="mm">(mm)</span></div>
<div class="dv" style="top:2213px;left:829.5px">470</div>
<div class="dv" style="top:2213px;left:1361.3px">470</div>
<div class="dv" style="top:2213px;left:1893.1px">470</div>
<div class="drow" style="top:2274px;height:74px;background:#f4f4f4"></div>
<div class="b3" style="top:2348px"></div>
<div class="badge" style="top:2290.5px">J</div>
<div class="dl" style="top:2288px">BOTTOM BRACKET DROP <span class="mm">(mm)</span></div>
<div class="dv" style="top:2289px;left:829.5px">50</div>
<div class="dv" style="top:2289px;left:1361.3px">50</div>
<div class="dv" style="top:2289px;left:1893.1px">50</div>
<div class="drow" style="top:2350px;height:74px;background:#f9f9f9"></div>
<div class="b3" style="top:2424px"></div>
<div class="badge" style="top:2366.5px">K</div>
<div class="dl" style="top:2364px">STACK <span class="mm">(mm)</span></div>
<div class="dv" style="top:2365px;left:829.5px">624.6</div>
<div class="dv" style="top:2365px;left:1361.3px">624.6</div>
<div class="dv" style="top:2365px;left:1893.1px">662.1</div>
<div class="drow" style="top:2426px;height:74px;background:#f4f4f4"></div>
<div class="b3" style="top:2500px"></div>
<div class="badge" style="top:2442.5px">L</div>
<div class="dl" style="top:2440px">REACH <span class="mm">(mm)</span></div>
<div class="dv" style="top:2441px;left:829.5px">390.6</div>
<div class="dv" style="top:2441px;left:1361.3px">398.7</div>
<div class="dv" style="top:2441px;left:1893.1px">394.5</div>
<div class="drow" style="top:2502px;height:74px;background:#f9f9f9"></div>
<div class="b3" style="top:2576px"></div>
<div class="badge" style="top:2518.5px">M</div>
<div class="dl" style="top:2516px">STAND OVER HEIGHT <span class="mm">(mm)</span></div>
<div class="dv" style="top:2517px;left:829.5px">411</div>
<div class="dv" style="top:2517px;left:1361.3px">403</div>
<div class="dv" style="top:2517px;left:1893.1px">396.5</div>
<div class="drow" style="top:2578px;height:74px;background:#f4f4f4"></div>
<div class="b3" style="top:2652px"></div>
<div class="badge" style="top:2594.5px">N</div>
<div class="dl" style="top:2592px">HANDLEBAR WIDTH <span class="mm">(mm)</span></div>
<div class="dv" style="top:2593px;left:829.5px">690</div>
<div class="dv" style="top:2593px;left:1361.3px">690</div>
<div class="dv" style="top:2593px;left:1893.1px">690</div>
<div class="drow" style="top:2654px;height:74px;background:#f9f9f9"></div>
<div class="b3" style="top:2728px"></div>
<div class="badge" style="top:2670.5px">O</div>
<div class="dl" style="top:2668px">STEM LENGTH <span class="mm">(mm)</span></div>
<div class="dv" style="top:2669px;left:829.5px">90</div>
<div class="dv" style="top:2669px;left:1361.3px">90</div>
<div class="dv" style="top:2669px;left:1893.1px">110</div>
<div class="drow" style="top:2730px;height:74px;background:#f4f4f4"></div>
<div class="b3" style="top:2804px"></div>
<div class="badge" style="top:2746.5px">P</div>
<div class="dl" style="top:2744px">CRANK LENGTH <span class="mm">(mm)</span></div>
<div class="dv" style="top:2745px;left:829.5px">170</div>
<div class="dv" style="top:2745px;left:1361.3px">170</div>
<div class="dv" style="top:2745px;left:1893.1px">170</div>
<div class="drow" style="top:2806px;height:72px;background:#f9f9f9"></div>
<div class="b3" style="top:2878px"></div>
<div class="badge" style="top:2821.5px">Q</div>
<div class="dl" style="top:2820px">WHEEL SIZE</div>
<div class="dv" style="top:2821px;left:829.5px">584X62</div>
<div class="dv" style="top:2821px;left:1361.3px">584X62</div>
<div class="dv" style="top:2821px;left:1893.1px">584X62</div>
</body></html>
